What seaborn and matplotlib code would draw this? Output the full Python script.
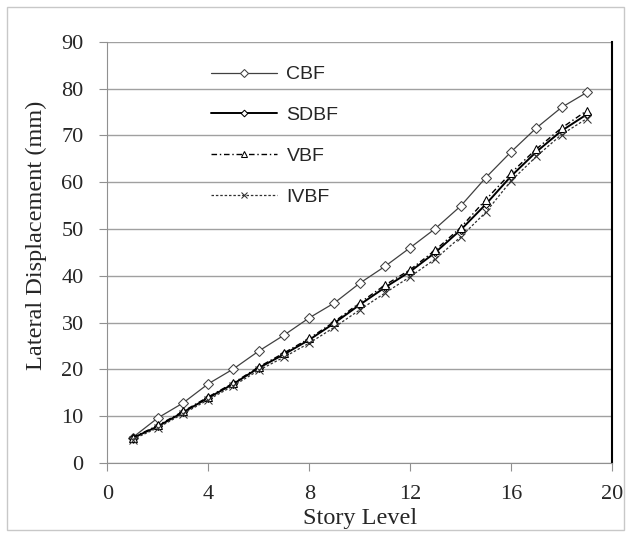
import matplotlib
matplotlib.use("Agg")
import matplotlib.pyplot as plt
import seaborn as sns
import numpy as np

story = list(range(1, 20))
cbf = [5.4, 9.6, 12.8, 16.9, 20.1, 23.9, 27.3, 31.0, 34.2, 38.4, 42.0, 46.0, 50.1, 54.9, 61.0, 66.5, 71.6, 76.0, 79.2]
sdbf = [5.3, 7.8, 10.8, 13.9, 16.9, 20.3, 23.2, 26.3, 29.9, 33.8, 37.5, 40.9, 45.0, 49.8, 55.3, 61.3, 66.5, 71.0, 74.5]
vbf = [5.4, 8.0, 11.0, 14.1, 17.1, 20.5, 23.5, 26.6, 30.2, 34.2, 38.0, 41.3, 45.5, 50.3, 56.3, 62.0, 67.1, 71.6, 75.3]
ivbf = [5.0, 7.5, 10.5, 13.5, 16.5, 19.8, 22.6, 25.6, 29.0, 32.7, 36.3, 39.8, 43.6, 48.3, 53.6, 60.3, 65.5, 70.2, 73.6]

sns.set_style("white")
plt.rcParams['font.family'] = ['Liberation Serif', 'DejaVu Serif']

fig = plt.figure(figsize=(6.31, 5.37), dpi=100)
ax = fig.add_axes([0.170, 0.138, 0.800, 0.784])

# light frame round the whole picture
fig.patches.append(plt.Rectangle((0.011, 0.013), 0.978, 0.974, transform=fig.transFigure,
                                 fill=False, edgecolor='#c8c8c8', linewidth=1))

sns.lineplot(x=story, y=cbf, ax=ax, color='#404040', linewidth=0.9, marker='D',
             markersize=5, markerfacecolor='white', markeredgecolor='#404040', label='CBF')
sns.lineplot(x=story, y=sdbf, ax=ax, color='black', linewidth=1.4, marker='D',
             markersize=4.5, markerfacecolor='white', markeredgecolor='black', label='SDBF')
sns.lineplot(x=story, y=vbf, ax=ax, color='black', linewidth=1.0, linestyle=(0, (4, 2, 1, 2)),
             marker='^', markersize=5.5, markerfacecolor='white', markeredgecolor='black', label='VBF')
sns.lineplot(x=story, y=ivbf, ax=ax, color='#303030', linewidth=0.9, linestyle=(0, (2, 1.5)),
             marker='x', markersize=5.5, markeredgecolor='#303030', label='IVBF')

ax.set_xlim(0, 20)
ax.set_ylim(0, 90)
ax.set_xticks(np.arange(0, 21, 4))
ax.set_yticks(np.arange(0, 91, 10))
ax.grid(axis='y', color='#a0a0a0', linewidth=1)
ax.set_axisbelow(True)

for s in ['left', 'bottom', 'top']:
    ax.spines[s].set_color('#909090')
ax.spines['top'].set_visible(False)
ax.spines['right'].set_color('black')
ax.spines['right'].set_linewidth(1.5)

ax.tick_params(axis='both', which='both', direction='out', length=6, color='#909090',
               labelsize=16, bottom=True, left=True)
ax.tick_params(axis='x', pad=10)
ax.tick_params(axis='y', pad=11)
ax.set_xlabel('Story Level', fontsize=17.5, labelpad=3)
ax.set_ylabel('Lateral Displacement (mm)', fontsize=17.5)
ax.yaxis.set_label_coords(-0.12, 0.54)

leg = ax.legend(loc='upper left', bbox_to_anchor=(0.17, 0.985), frameon=False,
                handlelength=3.4, labelspacing=1.2, handletextpad=0.5, markerscale=0.75,
                prop={'family': 'Liberation Sans', 'size': 14})

fig.savefig('out.png', dpi=100)
